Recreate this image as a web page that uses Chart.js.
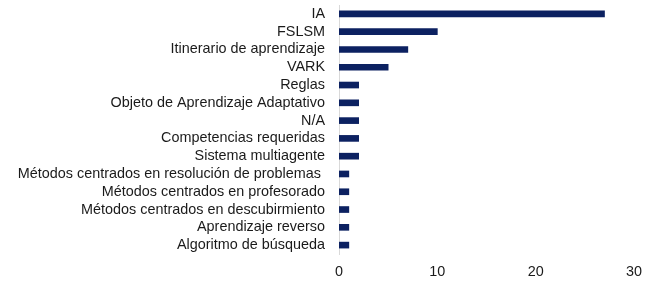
<!DOCTYPE html>
<html>
<head>
<meta charset="utf-8">
<script src="https://cdn.jsdelivr.net/npm/chart.js@4"></script>
<style>
html,body{margin:0;padding:0;background:#fff;}
#wrap{width:650px;height:283px;position:relative;}
</style>
</head>
<body>
<div id="wrap"><canvas id="c" width="650" height="283"></canvas></div>
<script>
const categories = [
  "IA",
  "FSLSM",
  "Itinerario de aprendizaje",
  "VARK",
  "Reglas",
  "Objeto de Aprendizaje Adaptativo",
  "N/A",
  "Competencias requeridas",
  "Sistema multiagente",
  "Métodos centrados en resolución de problemas ",
  "Métodos centrados en profesorado",
  "Métodos centrados en descubirmiento",
  "Aprendizaje reverso",
  "Algoritmo de búsqueda"
];
const values = [27, 10, 7, 5, 2, 2, 2, 2, 2, 1, 1, 1, 1, 1];
const xTicks = [0, 10, 20, 30];

new Chart(document.getElementById('c'), {
  type: 'bar',
  data: {
    labels: categories,
    datasets: [{
      data: values,
      backgroundColor: '#0c2161',
      borderWidth: 0,
      barThickness: 6
    }]
  },
  options: {
    indexAxis: 'y',
    responsive: false,
    animation: false,
    devicePixelRatio: 1,
    layout: { padding: { top: 5, right: 16, left: 0, bottom: 0 } },
    plugins: { legend: { display: false }, tooltip: { enabled: false } },
    scales: {
      x: {
        min: 0, max: 30,
        afterBuildTicks: s => { s.ticks = xTicks.map(v => ({ value: v })); },
        grid: { display: false, drawTicks: false },
        border: { display: false },
        ticks: { color: '#1a1a1a', font: { family: 'Liberation Sans', size: 14.4 }, padding: 9, maxRotation: 0 },
        afterFit: s => { s.height = 29; s.paddingLeft = 0; s.paddingRight = 0; }
      },
      y: {
        grid: { display: false, drawTicks: false },
        border: { display: true, color: '#d9d9d9', width: 1 },
        ticks: { color: '#1a1a1a', font: { family: 'Liberation Sans', size: 14.4 }, padding: 14, autoSkip: false },
        afterFit: s => { s.width = 339; s.paddingTop = 0; s.paddingBottom = 0; }
      }
    }
  }
});
</script>
</body>
</html>
